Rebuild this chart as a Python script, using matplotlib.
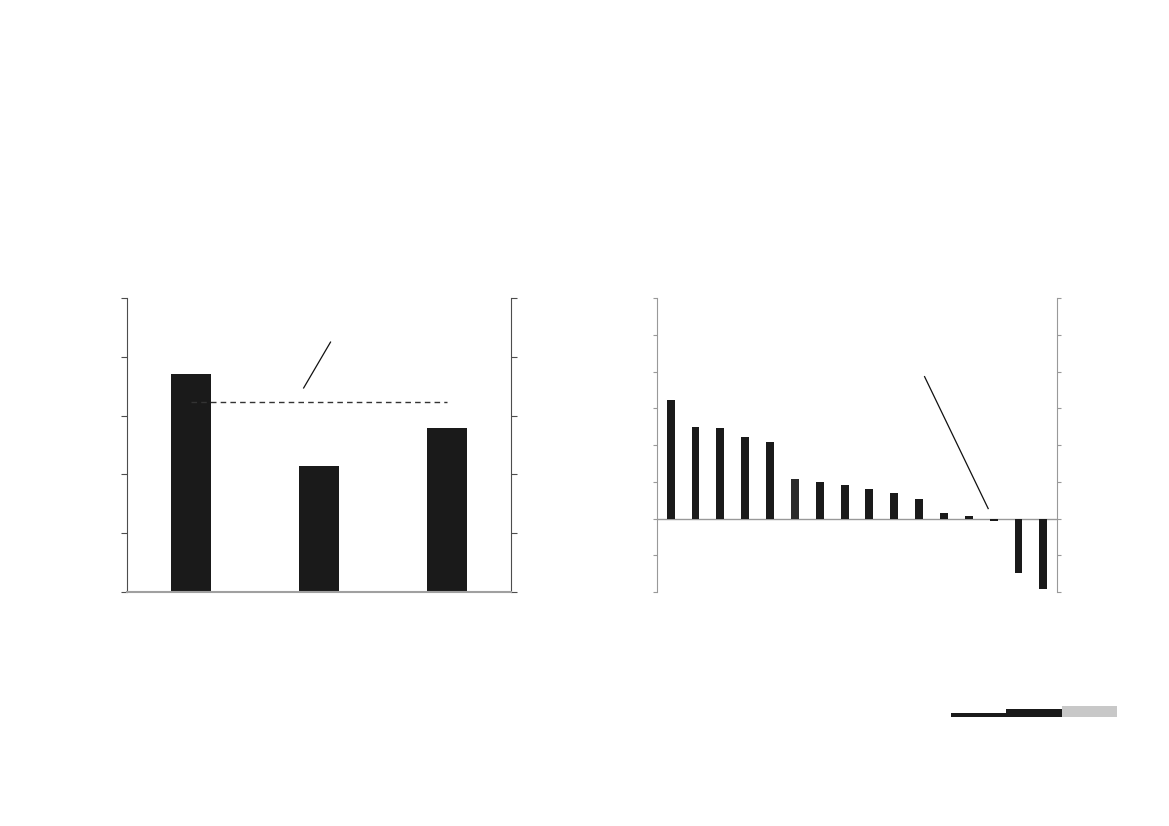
import matplotlib
matplotlib.use("Agg")
import matplotlib.pyplot as plt
import numpy as np

# left chart: three bars, a dashed average line and a pointer
left_values = [3.71, 2.14, 2.79]
left_avg = 3.23
left_pointer_x = [0.88, 1.09]
left_pointer_y = [3.47, 4.25]

# right chart: sixteen bars sorted high to low
right_values = [3.23, 2.48, 2.46, 2.23, 2.07, 1.08, 1.00, 0.90, 0.81,
                0.70, 0.54, 0.15, 0.08, -0.06, -1.49, -1.93]
right_pointer_x = [10.22, 12.78]
right_pointer_y = [3.86, 0.27]

# little stepped marker at the bottom right
logo_heights = [1.1, 2.0, 3.0]
logo_colors = ["#1a1a1a", "#1a1a1a", "#c8c8c8"]

fig = plt.figure(figsize=(11.69, 8.26), dpi=100)

# left chart
ax1 = fig.add_axes([127 / 1169, 1 - 592 / 826, 384 / 1169, 294 / 826])
x1 = np.arange(len(left_values))
ax1.bar(x1, left_values, width=0.31, color="#1a1a1a")
ax1.plot([0, 2.0], [left_avg, left_avg], color="#333333", linestyle=(0, (4, 3)), linewidth=1)
ax1.plot(left_pointer_x, left_pointer_y, color="#111111", linewidth=0.9)
ax1.set_xlim(-0.5, 2.5)
ax1.set_ylim(0, 5)
ax1.set_xticks([])
ax1.set_yticks(np.arange(0, 6, 1))
ax1.tick_params(axis="y", which="both", left=True, right=True, labelleft=False,
                labelright=False, length=4, color="#4d4d4d", direction="out")
for s in ["left", "right"]:
    ax1.spines[s].set_color("#4d4d4d")
ax1.spines["top"].set_visible(False)
ax1.spines["bottom"].set_color("#a0a0a0")
ax1.spines["bottom"].set_linewidth(1.5)

# right chart
ax2 = fig.add_axes([657 / 1169, 1 - 592 / 826, 400 / 1169, 294 / 826])
x2 = np.arange(len(right_values))
cols = ["#1a1a1a"] * len(right_values)
cols[5] = "#2a2a2a"
ax2.bar(x2, right_values, width=0.32, color=cols, zorder=2)
ax2.axhline(0, color="#999999", linewidth=1, zorder=1)
ax2.plot(right_pointer_x, right_pointer_y, color="#111111", linewidth=0.9)
ax2.set_xlim(-0.55, 15.55)
ax2.set_ylim(-2, 6)
ax2.set_xticks([])
ax2.set_yticks(np.arange(-2, 7, 1))
ax2.tick_params(axis="y", which="both", left=True, right=True, labelleft=False,
                labelright=False, length=3, color="#999999", direction="out")
for s in ["left", "right"]:
    ax2.spines[s].set_color("#999999")
ax2.spines["top"].set_visible(False)
ax2.spines["bottom"].set_visible(False)

# stepped marker
ax3 = fig.add_axes([951 / 1169, 1 - 716.7 / 826, 166 / 1169, 11 / 826])
ax3.bar(np.arange(3), logo_heights, width=1.0, align="edge", color=logo_colors)
ax3.set_xlim(0, 3)
ax3.set_ylim(0, 3)
ax3.axis("off")

fig.savefig("out.png", dpi=100)
